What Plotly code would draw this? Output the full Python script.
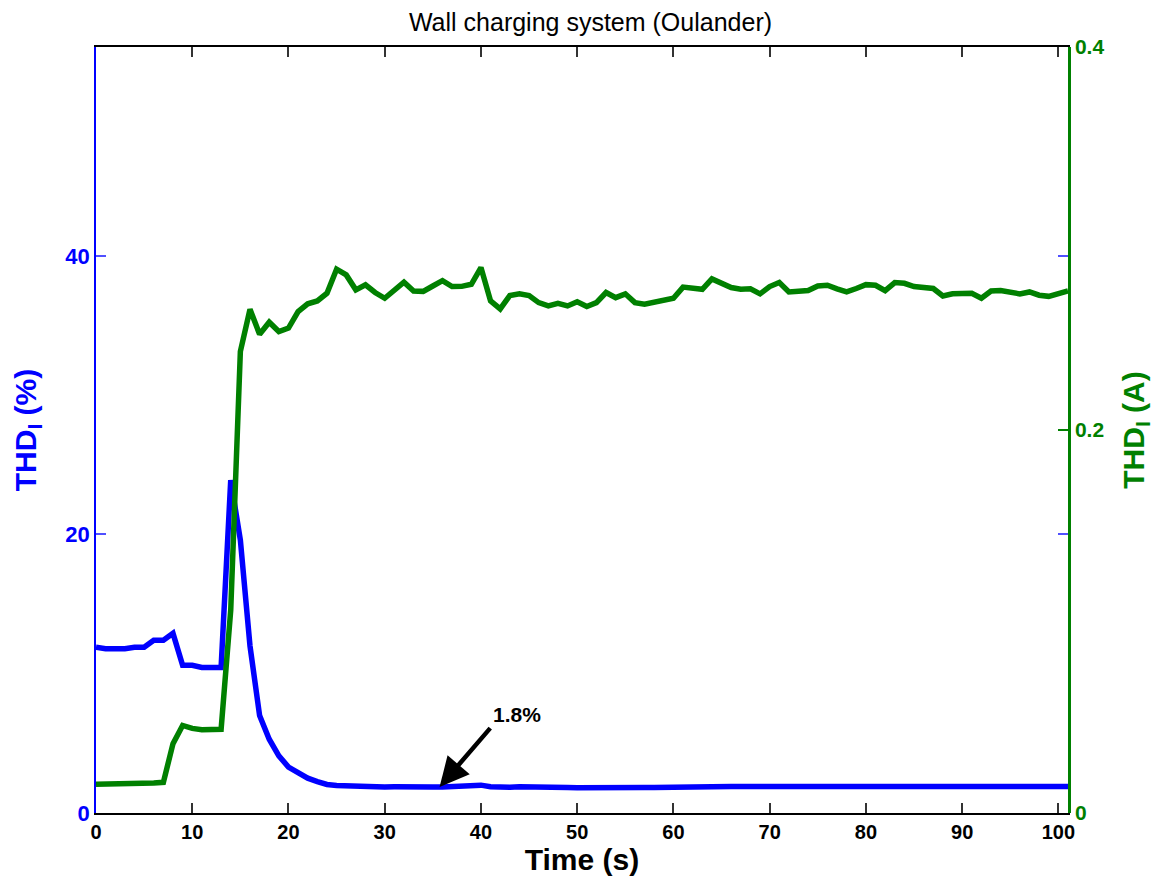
import plotly.graph_objects as go

time_s = list(range(0, 102))

thd_percent = [
    11.9, 11.8, 11.8, 11.8, 11.9, 11.9, 12.4, 12.4, 12.9, 10.6,
    10.6, 10.45, 10.45, 10.45, 23.9, 19.6, 12.0, 7.0, 5.3, 4.1,
    3.3, 2.85, 2.5, 2.25, 2.05, 1.98, 1.95, 1.9, 1.92, 1.9,
    1.87, 1.88, 1.9, 1.88, 1.88, 1.87, 1.87, 1.9, 1.9, 1.9,
    2.0, 1.88, 1.83, 1.85, 1.88, 1.85, 1.83, 1.83, 1.82, 1.83,
    1.82, 1.83, 1.83, 1.88, 1.85, 1.87, 1.83, 1.83, 1.83, 1.84,
    1.87, 1.9, 1.9, 1.9, 1.97, 1.93, 1.9, 1.9, 1.9, 1.9,
    1.9, 1.92, 1.9, 1.9, 1.9, 1.93, 1.93, 1.9, 1.9, 1.9,
    1.92, 1.92, 1.9, 1.93, 1.92, 1.9, 1.9, 1.88, 1.88, 1.9,
    1.9, 1.9, 1.87, 1.88, 1.9, 1.9, 1.88, 1.87, 1.88, 1.87,
    1.88, 1.9,
]

thd_amp = [
    0.015, 0.015, 0.015, 0.015, 0.015, 0.015, 0.0157, 0.016, 0.0362, 0.0457,
    0.0442, 0.0435, 0.0435, 0.0437, 0.106, 0.241, 0.263, 0.250, 0.2563, 0.2514,
    0.2532, 0.2618, 0.2659, 0.2674, 0.2714, 0.284, 0.281, 0.2732, 0.2758, 0.2718,
    0.2688, 0.2732, 0.2772, 0.2726, 0.2724, 0.2752, 0.278, 0.2749, 0.275, 0.2761,
    0.2848, 0.2674, 0.2632, 0.2702, 0.2711, 0.2702, 0.2665, 0.2648, 0.2662, 0.2648,
    0.267, 0.2645, 0.2665, 0.2718, 0.2691, 0.2711, 0.2665, 0.2657, 0.2669, 0.2674,
    0.2688, 0.2746, 0.2742, 0.2735, 0.2789, 0.2763, 0.2744, 0.2735, 0.2737, 0.2711,
    0.2749, 0.277, 0.2721, 0.2724, 0.2728, 0.2752, 0.2756, 0.2737, 0.2721, 0.2739,
    0.2759, 0.2756, 0.2728, 0.277, 0.2766, 0.2749, 0.2747, 0.2739, 0.27, 0.2711,
    0.2713, 0.2714, 0.2688, 0.2726, 0.2728, 0.2722, 0.2711, 0.2721, 0.2704, 0.2698,
    0.2711, 0.2726,
]

x_ticks = [0, 10, 20, 30, 40, 50, 60, 70, 80, 90, 100]
left_ticks = [0, 20, 40]
right_ticks = [0, 0.2, 0.4]

BLUE = "rgb(0,0,255)"
GREEN = "rgb(0,128,0)"
FONT = "Liberation Sans, Arial, sans-serif"

fig = go.Figure()
fig.add_trace(go.Scatter(x=time_s, y=thd_percent, mode="lines",
                         line=dict(color=BLUE, width=5.5), yaxis="y", showlegend=False))
fig.add_trace(go.Scatter(x=time_s, y=thd_amp, mode="lines",
                         line=dict(color=GREEN, width=5.5), yaxis="y2", showlegend=False))

fig.update_layout(
    width=1165, height=885,
    margin=dict(l=88, r=105, t=39, b=80),
    paper_bgcolor="white", plot_bgcolor="white",
    title=dict(text="Wall charging system (Oulander)", x=0.5, xanchor="center",
               y=0.984, yanchor="middle",
               font=dict(family=FONT, size=25, color="black")),
    xaxis=dict(range=[0, 101], tickvals=x_ticks, showgrid=False, zeroline=False,
               showline=True, linecolor="black", linewidth=2, mirror="ticks",
               ticks="inside", ticklen=10, tickwidth=1.5, tickcolor="#333",
               tickfont=dict(family=FONT, size=20, color="black", weight="bold"),
               title=dict(text="Time (s)", standoff=4,
                          font=dict(family=FONT, size=30, color="black", weight="bold"))),
    yaxis=dict(range=[0, 55], tickvals=left_ticks, showgrid=False, zeroline=False,
               showline=True, linecolor=BLUE, linewidth=1.5, mirror="ticks",
               ticks="inside", ticklen=10, tickwidth=1.5, tickcolor="rgba(80,80,255,1)",
               tickfont=dict(family=FONT, size=22, color=BLUE, weight="bold"),
               title=dict(text="THD<sub>I</sub> (%)", standoff=20,
                          font=dict(family=FONT, size=30, color=BLUE, weight="bold"))),
    yaxis2=dict(range=[0, 0.4], tickvals=right_ticks, ticktext=["0", "0.2", "0.4"],
                overlaying="y", side="right", showgrid=False, zeroline=False,
                showline=True, linecolor=GREEN, linewidth=2.5,
                ticks="inside", ticklen=10, tickwidth=1.5, tickcolor=GREEN,
                tickfont=dict(family=FONT, size=21, color=GREEN, weight="bold"),
                title=dict(text="THD<sub>I</sub> (A)", standoff=20,
                           font=dict(family=FONT, size=30, color=GREEN, weight="bold"))),
)

fig.add_annotation(x=35.7, y=1.87, ax=41.1, ay=6.2, xref="x", yref="y",
                   axref="x", ayref="y", text="", showarrow=True,
                   arrowhead=2, arrowsize=1.3, arrowwidth=4.5, arrowcolor="black")
fig.add_annotation(x=43.7, y=7.06, xref="x", yref="y", text="1.8%", showarrow=False,
                   font=dict(family=FONT, size=21, color="black", weight="bold"))

fig.write_html("out.html")
